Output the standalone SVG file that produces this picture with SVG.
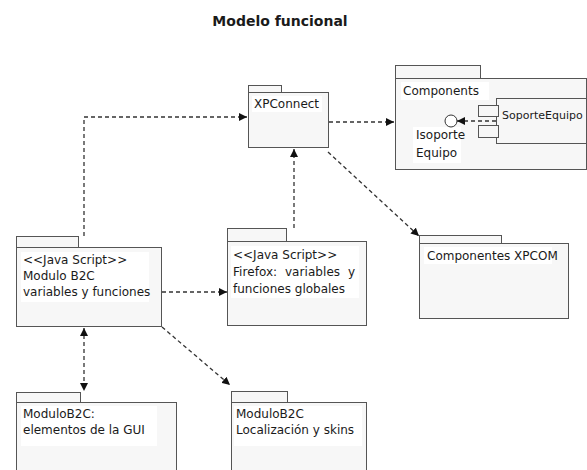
<svg xmlns="http://www.w3.org/2000/svg" width="587" height="470" viewBox="0 0 587 470">
<defs>
<marker id="arr" viewBox="0 0 10 10" refX="10" refY="5" markerWidth="8" markerHeight="8" markerUnits="userSpaceOnUse" orient="auto-start-reverse">
<path d="M0,0 L10,5 L0,10 z" fill="#111"/>
</marker>
<style>
.pk{fill:#f7f7f7;stroke:#555;stroke-width:1}
.bg{fill:#fff;stroke:none}
.t{font-family:"DejaVu Sans",Verdana,sans-serif;font-size:12px;fill:#1a1a1a}
.title{font-family:"DejaVu Sans",Verdana,sans-serif;font-size:14px;font-weight:bold;fill:#1a1a1a}
.c{fill:none;stroke:#333;stroke-width:1.3;stroke-dasharray:4,3}
</style>
</defs>
<rect width="587" height="470" fill="#fff"/>
<text class="title" x="280" y="26" text-anchor="middle">Modelo funcional</text>

<g id="xpconnect">
<rect class="pk" x="248.5" y="85.5" width="33" height="7"/>
<rect class="pk" x="248.5" y="92.5" width="80" height="55"/>
<rect class="bg" x="252" y="96" width="70" height="16"/>
<text class="t" x="254" y="108">XPConnect</text>
</g>

<g id="components">
<rect class="pk" x="395.5" y="65.5" width="85" height="13"/>
<rect class="pk" x="395.5" y="78.5" width="191" height="91"/>
<rect class="bg" x="401" y="82" width="88" height="18"/>
<text class="t" x="403" y="95">Components</text>
<rect class="bg" x="413" y="127" width="48" height="36"/>
<rect class="pk" x="496.5" y="98.5" width="90" height="45"/>
<rect class="pk" x="478.5" y="105.5" width="20" height="11"/>
<rect class="pk" x="478.5" y="125.5" width="20" height="12"/>
<text class="t" x="502" y="119" style="font-size:11px">SoporteEquipo</text>
<circle cx="451" cy="121" r="6" fill="#fff" stroke="#333" stroke-width="1"/>
<text class="t" x="416" y="139">Isoporte</text>
<text class="t" x="416" y="157">Equipo</text>
</g>

<g id="b2c">
<rect class="pk" x="16.5" y="236.5" width="62" height="11"/>
<rect class="pk" x="16.5" y="247.5" width="145" height="79"/>
<rect class="bg" x="21" y="252" width="128" height="50"/>
<text class="t" x="23" y="264">&lt;&lt;Java Script&gt;&gt;</text>
<text class="t" x="23" y="280">Modulo B2C</text>
<text class="t" x="23" y="296">variables y funciones</text>
</g>

<g id="firefox">
<rect class="pk" x="227.5" y="228.5" width="59" height="13"/>
<rect class="pk" x="227.5" y="241.5" width="139" height="84"/>
<rect class="bg" x="231" y="246" width="128" height="52"/>
<text class="t" x="233" y="259">&lt;&lt;Java Script&gt;&gt;</text>
<text class="t" x="233" y="276" textLength="122" lengthAdjust="spacing" xml:space="preserve">Firefox:  variables  y</text>
<text class="t" x="233" y="293">funciones globales</text>
</g>

<g id="xpcom">
<rect class="pk" x="419.5" y="235.5" width="82" height="8"/>
<rect class="pk" x="419.5" y="243.5" width="149" height="75"/>
<rect class="bg" x="424" y="247" width="128" height="17"/>
<text class="t" x="427" y="260">Componentes XPCOM</text>
</g>

<g id="gui">
<rect class="pk" x="16.5" y="392.5" width="64" height="10"/>
<rect class="pk" x="16.5" y="402.5" width="160" height="80"/>
<rect class="bg" x="21" y="406" width="136" height="40"/>
<text class="t" x="23" y="418">ModuloB2C:</text>
<text class="t" x="23" y="434">elementos de la GUI</text>
</g>

<g id="skins">
<rect class="pk" x="231.5" y="391.5" width="56" height="11"/>
<rect class="pk" x="231.5" y="402.5" width="135" height="80"/>
<rect class="bg" x="234" y="406" width="128" height="40"/>
<text class="t" x="236" y="418">ModuloB2C</text>
<text class="t" x="236" y="434">Localización y skins</text>
</g>

<g id="connectors">
<path class="c" d="M84,236 V117 H247" marker-end="url(#arr)"/>
<path class="c" d="M294,228 V149" marker-end="url(#arr)"/>
<path class="c" d="M329,122 H394" marker-end="url(#arr)"/>
<path class="c" d="M328,152 L419,236" marker-end="url(#arr)"/>
<path class="c" d="M162,292 H227" marker-end="url(#arr)"/>
<path class="c" d="M84,328 V391" marker-start="url(#arr)" marker-end="url(#arr)"/>
<path class="c" d="M162,327 L230,385" marker-end="url(#arr)"/>
<path class="c" d="M496,121 H457" marker-end="url(#arr)"/>
</g>
</svg>
